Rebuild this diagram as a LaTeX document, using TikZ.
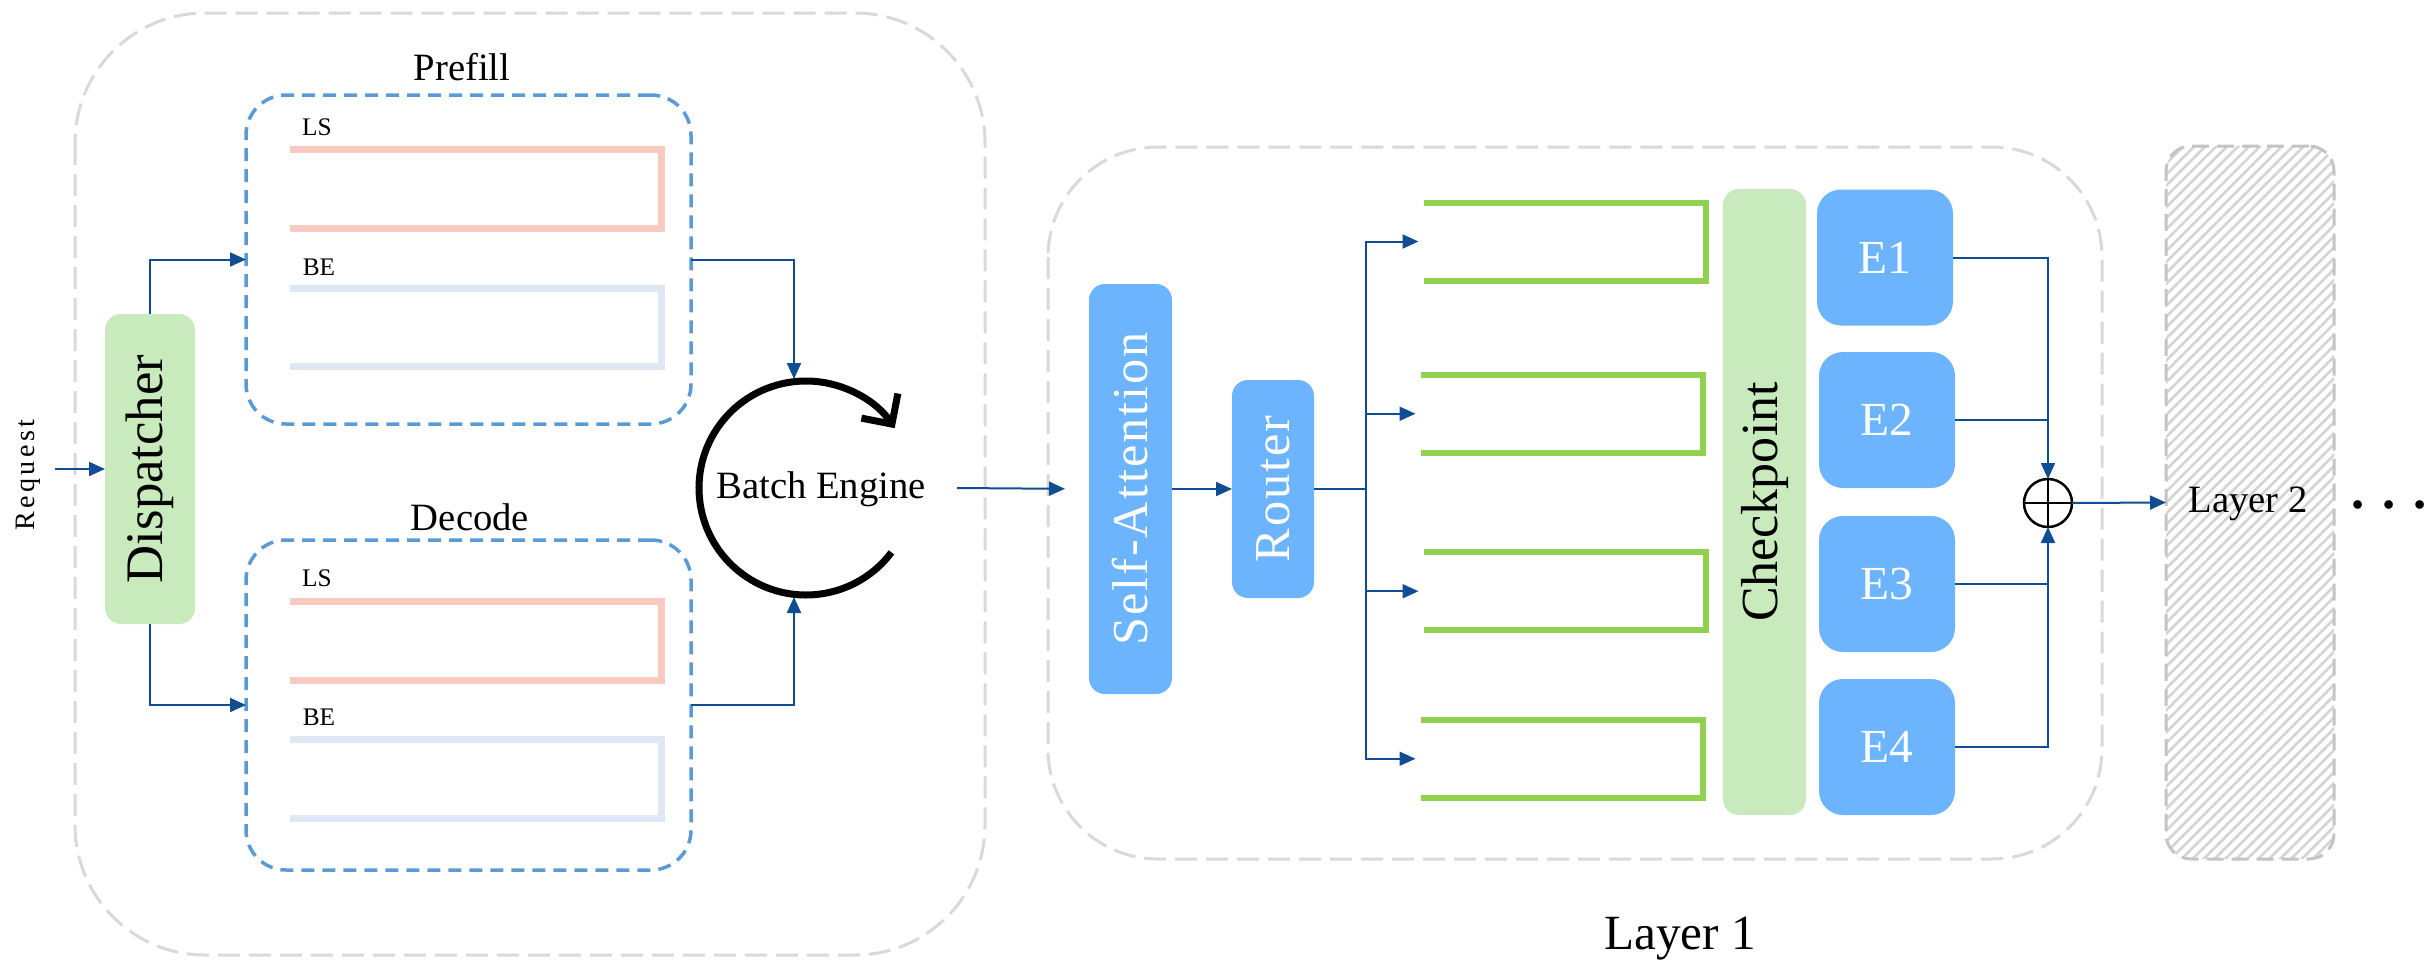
\documentclass[tikz,border=0pt]{standalone}
\usepackage{fontspec}
\setmainfont{Liberation Serif}
\newfontfamily\wideserif{Liberation Serif}[LetterSpace=4]
\newfontfamily\reqserif{Liberation Serif}[LetterSpace=12]
\usetikzlibrary{arrows.meta,patterns.meta,calc}

\definecolor{flowblue}{HTML}{114D92}
\definecolor{boxblue}{HTML}{6CB4FD}
\definecolor{softgreen}{HTML}{C8EABC}
\definecolor{framegray}{HTML}{D9D9D9}
\definecolor{dashblue}{HTML}{5B9BD5}
\definecolor{lsred}{HTML}{F9CBC0}
\definecolor{bepale}{HTML}{DEE7F3}
\definecolor{qgreen}{HTML}{92D050}
\definecolor{hatchgray}{HTML}{D4D4D4}
\definecolor{layeredge}{HTML}{C4C4C4}

\newcommand\setfs[1]{\fontsize{#1}{#1}\selectfont}

\begin{document}
\begin{tikzpicture}[x=0.1mm, y=-0.1mm,
  every node/.style={inner sep=0pt, outer sep=0pt},
  flow/.style={draw=flowblue, line width=0.2mm, -{Triangle[length=1.6mm,width=1.4mm]}},
  link/.style={draw=flowblue, line width=0.2mm},
  groupframe/.style={draw=framegray, line width=0.3mm, dash pattern=on 2.2mm off 0.9mm},
  queuebox/.style={draw=dashblue, line width=0.35mm, dash pattern=on 1.3mm off 0.8mm, rounded corners=4mm, minimum width=44.5mm},
  bluebox/.style={fill=boxblue, draw=none, rounded corners=1.6mm, text=white},
  greenbox/.style={fill=softgreen, draw=none, rounded corners=1.6mm},
  expert/.style={bluebox, rounded corners=2.4mm, minimum width=13.6mm, minimum height=13.6mm, font=\setfs{13.5pt}},
  prioslot/.style={draw=none, minimum width=37.15mm},
  qslot/.style={draw=none, minimum width=28.2mm, minimum height=7.8mm},
  lsline/.style={draw=lsred, line width=0.7mm},
  beline/.style={draw=bepale, line width=0.7mm},
  qline/.style={draw=qgreen, line width=0.6mm},
  smalltag/.style={anchor=base, font=\setfs{7.2pt}},
]
\useasboundingbox (0,0) rectangle (2424,963);

% ---------- serving front end ----------
\draw[groupframe, rounded corners=13mm] (75,13) rectangle (985,955);

\node (req) at (28,475) {\rotatebox{90}{\reqserif\setfs{8pt}Request}};
\coordinate (reqin) at (55,469);

\node[greenbox, minimum width=9mm, minimum height=31mm] (disp) at (150,469)
  {\rotatebox{90}{\setfs{15pt}Dispatcher}};

% prefill queue
\node[queuebox, minimum height=32.9mm] (pre) at (468.5,259.5) {};
\node[anchor=base] (prelabel) at (462,80) {\setfs{11pt}Pref\kern0pt ill};
\node[smalltag] (prels) at (317,135) {LS};
\node[prioslot, minimum height=7.85mm] (pls) at (475.75,188.75) {};
\node[smalltag] (prebe) at (319,275) {BE};
\node[prioslot, minimum height=7.8mm] (pbe) at (475.75,327) {};

% decode queue
\node[queuebox, minimum height=33mm] (dec) at (468.5,705) {};
\node[anchor=base] (declabel) at (470,530) {\setfs{11pt}Decode};
\node[smalltag] (decls) at (317,586) {LS};
\node[prioslot, minimum height=7.9mm] (dls) at (475.75,640.5) {};
\node[smalltag] (decbe) at (319,725) {BE};
\node[prioslot, minimum height=7.9mm] (dbe) at (475.75,778.5) {};

\foreach \s in {pls,dls}
  \draw[lsline] (\s.north west) -- (\s.north east) -- (\s.south east) -- (\s.south west);
\foreach \s in {pbe,dbe}
  \draw[beline] (\s.north west) -- (\s.north east) -- (\s.south east) -- (\s.south west);

% batch engine loop
\coordinate (loop) at (806,488);
\node[anchor=base] (eng) at (821,498) {\setfs{11pt}Batch Engine};
\draw[line width=0.7mm, -{Straight Barb[length=2.2mm, width=4.4mm]}]
  ($(loop)+(-37:10.7mm)$) arc[start angle=-37, end angle=-326, radius=10.7mm];
\coordinate (looptop) at (794,379);
\coordinate (loopbot) at (794,597);
\coordinate (engout) at (957,488);

\draw[flow] (reqin) -- (disp.west);
\draw[flow] (disp.north) |- (pre.west);
\draw[flow] (disp.south) |- (dec.west);
\draw[flow] (pre.east) -| (looptop);
\draw[flow] (dec.east) -| (loopbot);

% ---------- MoE layer ----------
\draw[groupframe, rounded corners=11mm] (1048,147) rectangle (2102,859);
\node[anchor=base] (l1label) at (1680,949) {\setfs{14pt}Layer 1};

\node[bluebox, minimum width=8.3mm, minimum height=41mm] (sa) at (1130.5,489)
  {\rotatebox{90}{\wideserif\setfs{14.3pt}Self-Attention}};
\node[bluebox, minimum width=8.2mm, minimum height=21.8mm] (router) at (1273,489)
  {\rotatebox{90}{\wideserif\setfs{14.3pt}Router}};

\draw[flow, shorten >=2.4mm] (engout) -- (sa.west);
\draw[flow] (sa.east) -- (router.west);

\node[qslot] (q1) at (1565,241.5) {};
\node[qslot] (q2) at (1562,413.75) {};
\node[qslot] (q3) at (1565,591.25) {};
\node[qslot] (q4) at (1562,758.75) {};
\foreach \s in {q1,q2,q3,q4}
  \draw[qline] (\s.north west) -- (\s.north east) -- (\s.south east) -- (\s.south west);

\coordinate (hub) at (1366,489);
\draw[link] (router.east) -- (hub);
\foreach \s in {q1,q2,q3,q4}
  \draw[flow, shorten >=0.55mm] (hub) |- (\s.west);

\node[greenbox, minimum width=8.3mm, minimum height=62.6mm] (ckpt) at (1764.5,502)
  {\rotatebox{90}{\setfs{14.8pt}Checkpoint}};

\node[expert] (e1) at (1885,257.5) {E1};
\node[expert] (e2) at (1887,420) {E2};
\node[expert] (e3) at (1887,584) {E3};
\node[expert] (e4) at (1887,747) {E4};

\node[circle, draw, line width=0.25mm, minimum size=4.8mm] (plus) at (2048,503) {};
\draw[line width=0.25mm] (plus.north) -- (plus.south) (plus.west) -- (plus.east);

\draw[flow] (e1.east) -| (plus.north);
\draw[flow] (e4.east) -| (plus.south);
\draw[link] (e2.east) -- (e2.east -| plus.north);
\draw[link] (e3.east) -- (e3.east -| plus.south);

% ---------- following layers ----------
\node[draw=layeredge, line width=0.3mm, dash pattern=on 1.7mm off 0.8mm, rounded corners=2.5mm,
      pattern={Lines[angle=45, distance=2.2pt, line width=0.75pt]}, pattern color=hatchgray,
      minimum width=16.8mm, minimum height=71.3mm] (l2) at (2250,502.5) {};
\node[anchor=base] (l2label) at (2248,512) {\setfs{11pt}Layer 2};
\draw[flow] (plus.east) -- (l2.west);

\node (more) at (2389,505) {\setfs{15pt}\bfseries . . .};
\end{tikzpicture}
\end{document}
